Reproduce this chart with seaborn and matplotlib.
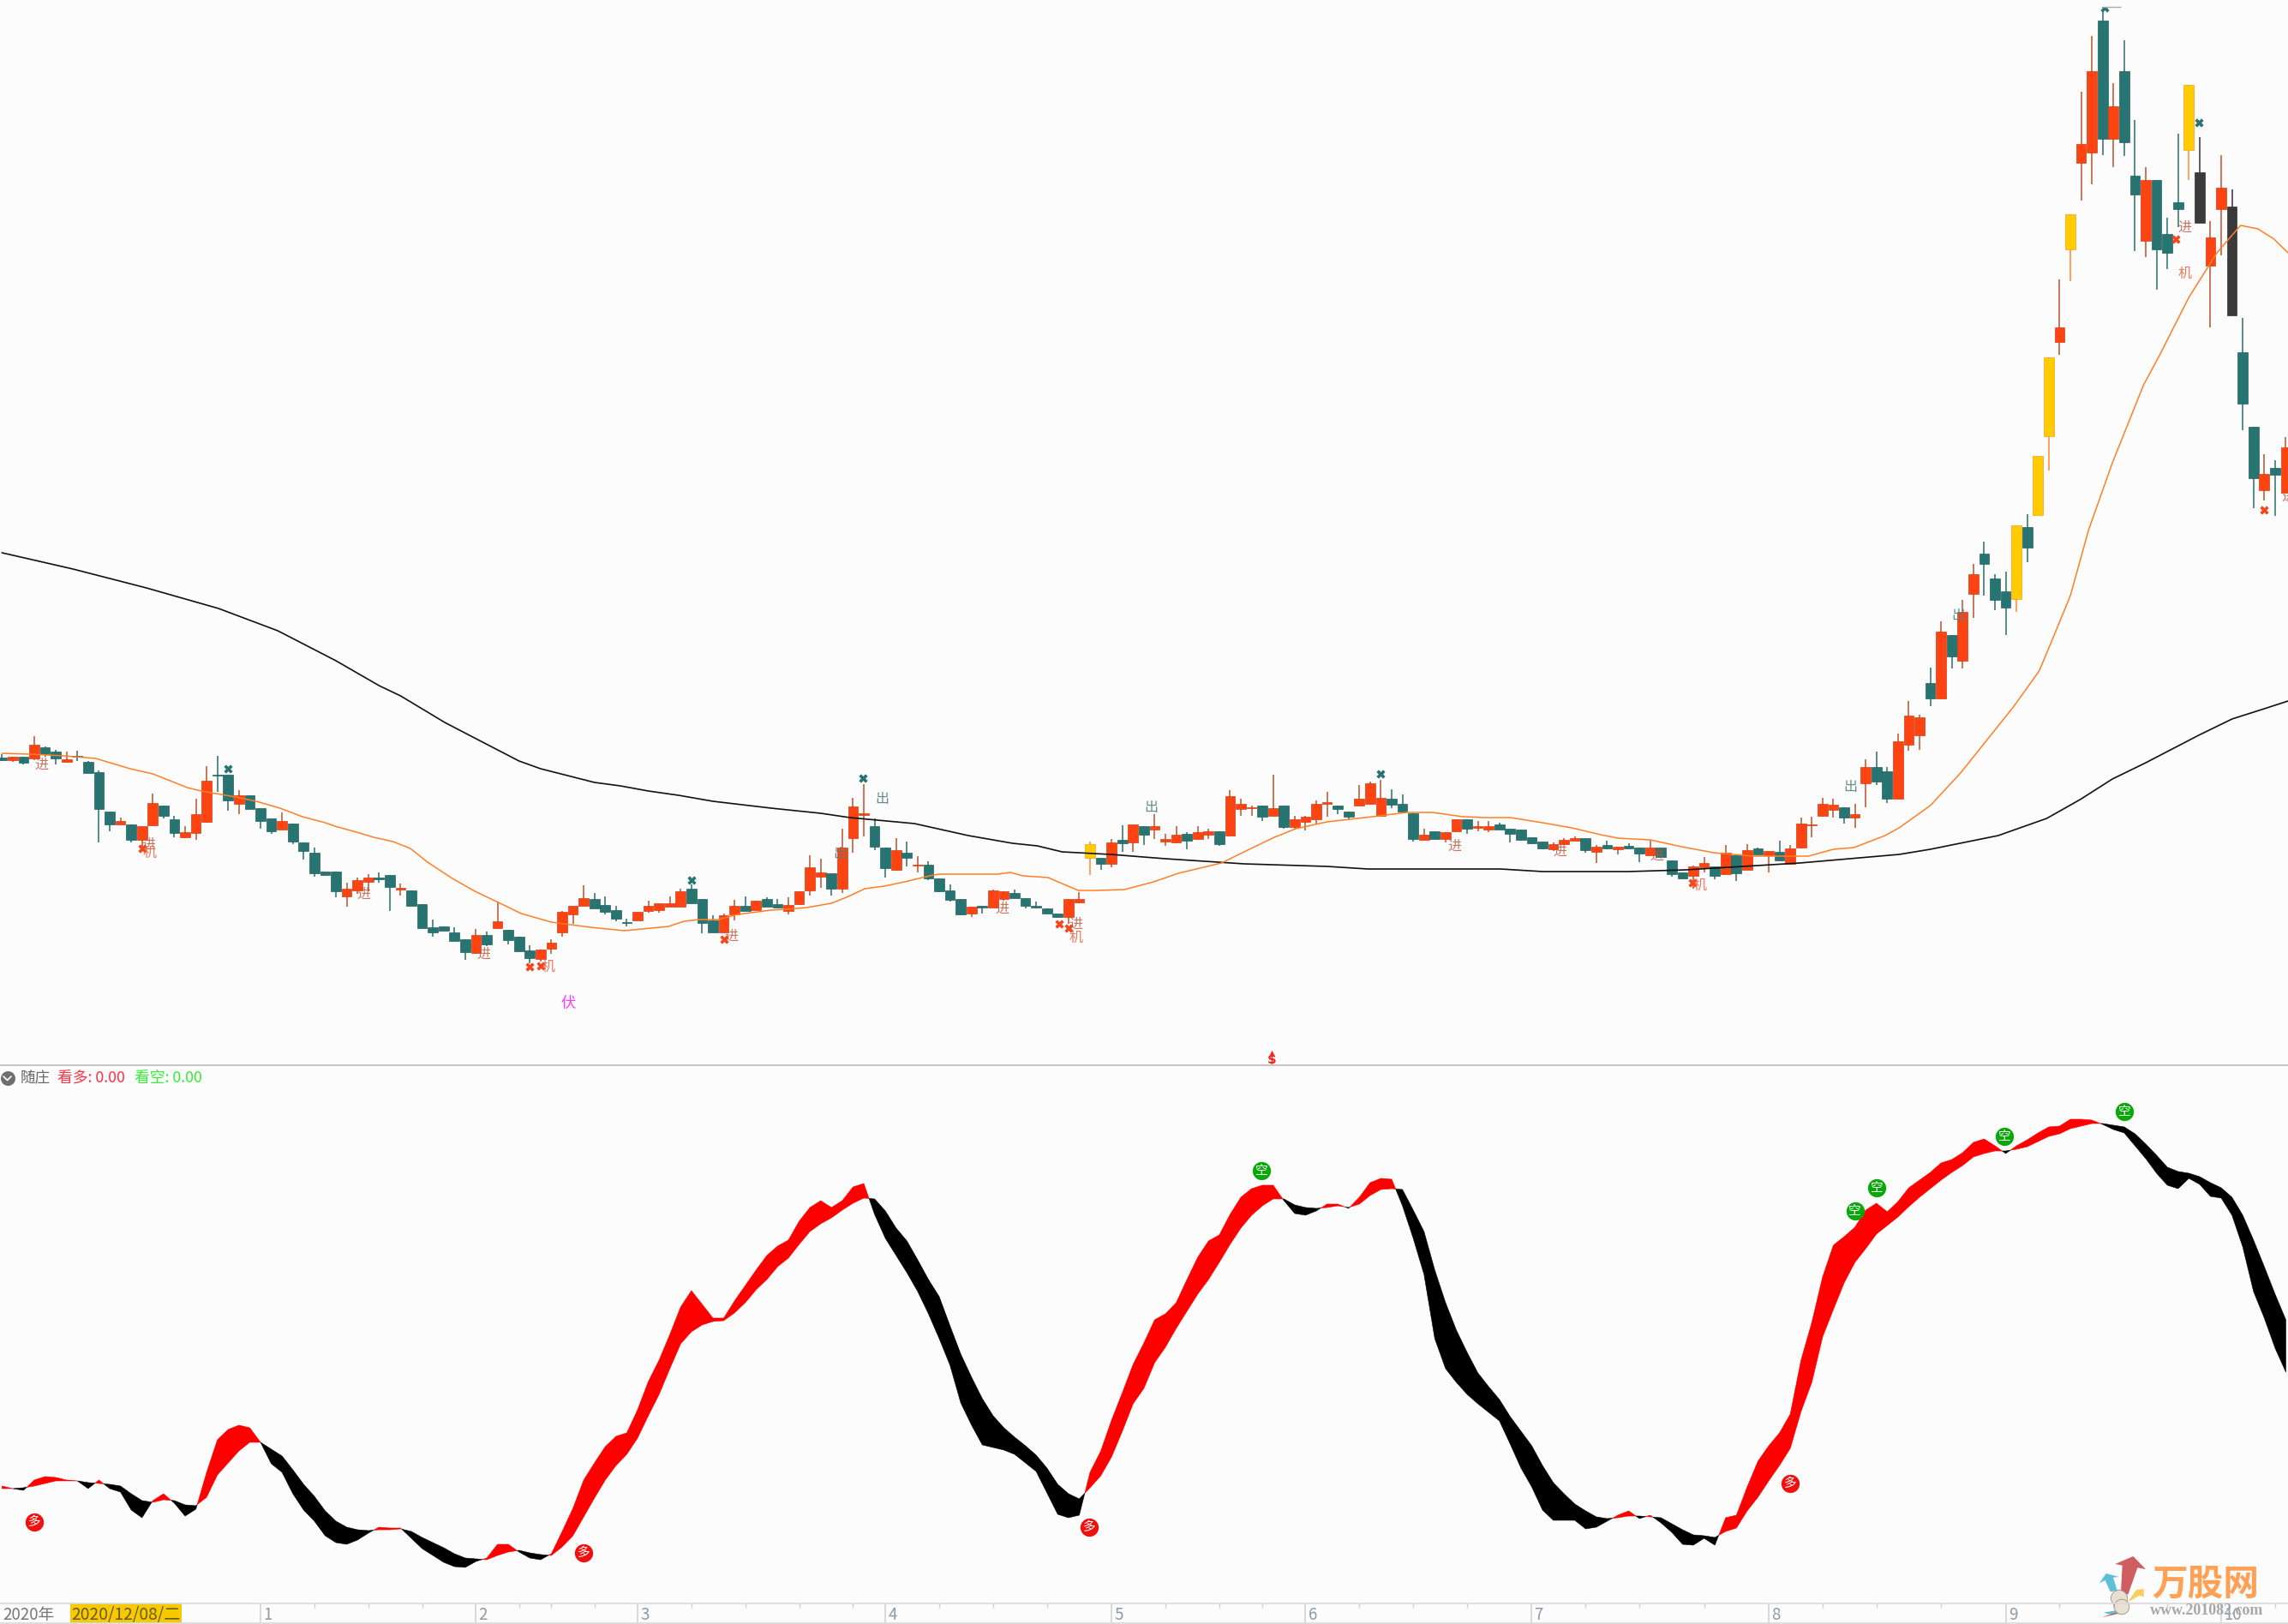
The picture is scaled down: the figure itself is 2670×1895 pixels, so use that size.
import numpy as np
import matplotlib
matplotlib.use("Agg")
import matplotlib.pyplot as plt
import seaborn as sns

# candles, one entry per trading day
bar_kind = list(
    "grgrggrggg" "grgrrggrrr" "ggrgggrggg" "ggrrrggrgg" "ggggrgrggg" "rrrrrggggr" "rrrrgggrrg" "rg"
    "grrrrgrrrg" "grgrggggrg" "rrgggggrry" "grgrgrrrgr" "rgrrrgrgrr" "rrggrrrggg" "rgrrgrrggg" "gg"
    "rrrgrgrggr" "gggrrgrgrg" "rgrrrrrgrr" "ggrrrgrgrr" "gggygyyryr" "rgrggrgggy" "drrdggrgr"
)

body_top = [359, 360, 360, 374, 371, 366, 357, 361, 354, 342,
            296, 285, 281, 279, 306, 303, 287, 272, 293, 332,
            339, 339, 315, 315, 300, 288, 285, 282, 260, 248,
            226, 226, 206, 216, 219, 219, 222, 207, 204, 188,
            161, 162, 155, 147, 152, 152, 168, 158, 150, 134,
            135, 143, 179, 186, 195, 194, 187, 181, 167, 179,
            186, 189, 189, 203, 206, 194, 169, 175, 186, 186,
            192, 194,
            188, 187, 203, 231, 225, 224, 254, 302, 294, 279,
            254, 251, 248, 234, 234, 218, 204, 194, 185, 186,
            204, 203, 201, 195, 186, 183, 177, 194, 194, 258,
            242, 260, 263, 281, 279, 279, 264, 269, 270, 272,
            273, 273, 314, 305, 300, 303, 300, 303, 287, 290,
            305, 307, 303, 296, 311, 329, 312, 311, 305, 294,
            269, 273, 272, 287, 287, 279, 279, 281, 276, 275,
            266, 261,
            258, 263, 265, 265, 255, 257, 255, 256, 254, 254,
            254, 239, 225, 232, 236, 232, 248, 245, 251, 253,
            250, 249, 253, 282, 280, 305, 304, 301, 293, 348,
            348, 343, 378, 408, 406, 446, 506, 502, 529, 573,
            597, 568, 553, 630, 628, 711, 826, 861, 993, 1075,
            1160, 1219, 1119, 1160, 1038, 1033, 1033, 970, 1007, 1144,
            1042, 966, 1024, 1002, 832, 745, 690, 697, 721]

body_bot = [356, 356, 353, 358, 363, 358, 354, 360, 341, 299,
            281, 281, 263, 263, 280, 291, 271, 266, 271, 284,
            338, 309, 305, 299, 285, 273, 275, 261, 250, 224,
            222, 203, 197, 204, 214, 217, 208, 205, 186, 160,
            155, 157, 145, 132, 131, 141, 160, 146, 133, 125,
            124, 136, 155, 176, 186, 183, 179, 171, 166, 169,
            180, 181, 185, 185, 189, 166, 155, 155, 176, 180,
            181, 185,
            184, 180, 188, 204, 220, 206, 206, 265, 292, 255,
            230, 228, 242, 233, 218, 203, 193, 176, 177, 184,
            184, 194, 195, 186, 184, 177, 173, 173, 190, 242,
            235, 235, 259, 260, 269, 275, 261, 260, 262, 264,
            269, 258, 268, 299, 300, 290, 291, 278, 278, 284,
            287, 305, 299, 290, 303, 305, 291, 304, 296, 264,
            263, 264, 264, 273, 276, 277, 275, 275, 270, 263,
            259, 253,
            252, 258, 262, 251, 249, 253, 252, 253, 247, 245,
            243, 223, 218, 221, 231, 221, 223, 224, 228, 246,
            245, 239, 235, 254, 280, 291, 298, 289, 289, 329,
            331, 311, 311, 374, 385, 428, 428, 477, 472, 550,
            585, 543, 534, 544, 604, 642, 734, 844, 952, 1053,
            1065, 1081, 1081, 1077, 1016, 962, 952, 948, 999, 1068,
            983, 933, 999, 875, 772, 685, 671, 689, 668]

wick_high = [363, 360, 360, 384, 372, 368, 366, 367, 355, 344,
             296, 289, 281, 279, 317, 303, 291, 279, 311, 349,
             361, 339, 321, 315, 300, 288, 295, 282, 260, 254,
             226, 226, 213, 219, 223, 225, 222, 212, 204, 188,
             170, 162, 161, 147, 159, 156, 191, 158, 150, 140,
             135, 147, 180, 186, 210, 201, 197, 186, 171, 179,
             192, 189, 197, 206, 211, 194, 175, 177, 193, 197,
             192, 196,
             194, 196, 203, 245, 241, 224, 276, 312, 328, 288,
             254, 265, 261, 244, 238, 218, 211, 194, 185, 186,
             205, 203, 205, 195, 191, 183, 177, 194, 202, 261,
             242, 264, 280, 281, 279, 293, 270, 279, 272, 279,
             276, 273, 321, 311, 303, 303, 339, 303, 291, 291,
             309, 319, 303, 296, 327, 331, 333, 322, 316, 294,
             276, 273, 272, 287, 287, 285, 285, 283, 276, 275,
             266, 261,
             260, 265, 267, 265, 257, 262, 255, 259, 254, 262,
             254, 239, 225, 233, 243, 232, 257, 245, 258, 254,
             250, 262, 257, 289, 290, 312, 311, 301, 305, 357,
             366, 348, 387, 425, 409, 464, 518, 502, 543, 585,
             611, 573, 576, 630, 643, 711, 826, 917, 993, 1136,
             1201, 1232, 1146, 1196, 1103, 1048, 1033, 989, 1087, 1144,
             1083, 985, 1062, 1022, 872, 745, 713, 706, 733]

wick_low = [355, 354, 351, 356, 360, 351, 353, 355, 341, 260,
            273, 281, 260, 253, 279, 288, 266, 265, 263, 283,
            319, 297, 293, 299, 276, 270, 275, 258, 240, 220,
            222, 196, 185, 200, 203, 213, 180, 198, 186, 160,
            150, 157, 145, 123, 130, 139, 160, 141, 133, 119,
            121, 130, 150, 165, 186, 183, 176, 168, 162, 169,
            178, 178, 185, 185, 189, 154, 155, 155, 169, 180,
            181, 185,
            183, 176, 187, 198, 207, 198, 201, 248, 267, 251,
            219, 227, 232, 225, 216, 202, 191, 175, 173, 177,
            184, 192, 195, 183, 183, 177, 172, 165, 189, 222,
            228, 231, 249, 249, 257, 264, 256, 259, 252, 263,
            264, 256, 268, 291, 291, 285, 290, 276, 276, 274,
            282, 290, 293, 287, 303, 304, 291, 300, 296, 261,
            262, 264, 260, 272, 270, 273, 272, 275, 260, 262,
            258, 252,
            250, 257, 262, 248, 236, 252, 246, 253, 237, 245,
            243, 220, 217, 206, 225, 217, 223, 215, 228, 246,
            225, 239, 235, 253, 266, 290, 289, 282, 277, 301,
            327, 306, 311, 367, 368, 419, 428, 463, 463, 522,
            548, 531, 502, 529, 587, 642, 694, 829, 915, 1009,
            1028, 1062, 1048, 1061, 950, 943, 905, 929, 978, 1033,
            983, 861, 945, 875, 741, 650, 659, 641, 668]

# moving averages (bar position, value)
ma_short_x = [0, 2.6, 5.8, 8.7, 11.9, 14, 16, 17.2, 18.5, 21.7, 23.6, 25.8, 27.9, 30, 30.9, 32.9, 34.5,
              36.3, 37.9, 39.5, 41.8, 43.9, 45.9, 48.2, 51, 54.6, 57.8, 61.9, 63.3, 64.7, 66.5, 68.3, 71.4,
              72.8, 74.7, 77, 78.4, 80.1, 81.9, 83.8, 86.1, 87, 92.4, 93.6, 94.8, 97.1, 99.9, 101.6, 104.2,
              106.9, 109.2, 111.2, 113.2, 115.3, 118.1, 120.1, 123, 127.2, 130.4, 132.8, 135.6, 137.7, 140,
              143, 145.7, 148.4, 150, 153, 155.9, 158.9, 162.5, 167.7, 170, 171.9, 174.8, 176.1, 179,
              181.8, 186.7, 189.1, 190.4, 192, 193.7, 195.9, 198.8, 200.3, 203, 205.6, 207.8, 209.4, 210.9, 212.2]
ma_short_y = [364, 363, 361, 358, 346, 340, 330, 324, 320, 313, 308, 300, 290, 283, 279, 272, 266,
              261, 253, 237, 218, 203, 191, 177, 167, 161, 157, 162, 168, 170, 170, 176, 181,
              182, 184, 189, 196, 206, 209, 214, 221, 223, 223, 225, 221, 219, 204, 204, 205,
              214, 224, 230, 236, 249, 266, 276, 284, 290, 295, 295, 290, 289, 289,
              283, 277, 269, 265, 263, 255, 248, 244, 244, 252, 254, 268, 277, 303,
              341, 418, 460, 499, 548, 625, 703, 794, 829, 896, 948, 980, 976, 964, 948]

ma_long_x = [0, 6.6, 13.4, 20.1, 25.6, 31, 35, 37, 41.1, 43.7, 48, 50, 55, 57.4, 60, 62.8, 66, 71.4,
             76, 78.7, 84.7, 89.7, 93.8, 96.1, 98.4, 102.9, 108, 115.3, 123, 126.8, 139.1, 143,
             151, 156.3, 166.9, 176.1, 179, 185.3, 189.8, 192.9, 195.9, 199, 203.9, 207, 210, 212.2]
ma_long_y = [598, 579, 557, 533, 507, 472, 443, 431, 400, 383, 355, 346, 330, 326, 320, 315, 308, 300,
             294, 289, 282, 268, 259, 256, 249, 246, 241, 235, 232, 229, 229, 226,
             226, 228, 236, 246, 252, 268, 288, 310, 334, 353, 385, 404, 416, 425]

# signal texts on the price panel
jin_x = [3.7, 13.6, 33.6, 44.7, 67.7, 92.8, 99.7, 134.8, 144.6, 153.6, 202.6, 212.2]
jin_y = [351, 258, 200, 130, 151, 183, 165, 256, 250, 245, 978, 664]
ji_x = [13.7, 50.7, 99.7, 157.6, 202.6]
ji_y = [248, 115, 149, 210, 924]
chu_x = [81.7, 77.8, 106.7, 171.6, 181.6]
chu_y = [310, 246, 301, 325, 525]
cross_red_x = [13, 49, 50, 67, 98.1, 99, 156.9, 201.8, 210]
cross_red_y = [253, 115, 116, 147, 165, 160, 213, 964, 648]
cross_green_x = [21, 64, 79.9, 128, 195.2, 203.9]
cross_green_y = [346, 216, 335, 340, 1234, 1100]

# oscillator ribbon
ribbon_fast = [137, 134, 132, 144, 148, 147, 144, 143, 134, 144,
               134, 130, 109, 100, 120, 128, 117, 102, 110, 153,
               191, 203, 208, 205, 188, 163, 153, 128, 109, 96,
               79, 71, 69, 74, 82, 89, 88, 88, 76, 64,
               56, 48, 43, 42, 49, 53, 69, 69, 60, 53,
               51, 58, 84, 111, 144, 164, 183, 195, 199, 226,
               259, 284, 314, 346, 365, 349, 333, 333, 353, 371,
               389, 406, 417, 424, 446, 462, 470, 462, 470, 486,
               490, 454, 426, 406, 386, 364, 338, 309, 278, 234,
               208, 185, 182, 179, 174, 164, 154, 129, 104, 100,
               103, 153, 178, 214, 246, 279, 304, 331, 338, 351,
               378, 404, 423, 430, 454, 474, 484, 488, 488, 470,
               455, 453, 458, 466, 466, 461, 474, 491, 496, 495,
               464, 426, 384, 309, 274, 258, 244, 233, 223, 213,
               186, 158, 136, 109, 97, 97, 97, 87, 89, 96,
               103, 108, 99, 103, 94, 83, 69, 68, 76, 68,
               100, 103, 136, 166, 184, 199, 221, 284, 328, 381,
               418, 428, 439, 459, 467, 457, 469, 485, 494, 503,
               514, 518, 526, 538, 542, 534, 525, 534, 541, 549,
               556, 557, 565, 565, 564, 559, 553, 549, 534, 519,
               502, 488, 484, 496, 489, 475, 473, 453, 416, 364,
               333, 298, 270]
ribbon_slow = [134, 134, 135, 137, 140, 143, 143, 143, 141, 140,
               139, 137, 128, 120, 118, 121, 120, 115, 114, 124,
               150, 164, 178, 188, 188, 180, 172, 156, 139, 125,
               108, 96, 89, 86, 85, 86, 86, 87, 84, 77,
               71, 65, 58, 53, 52, 51, 56, 60, 62, 59,
               57, 56, 66, 79, 101, 123, 144, 161, 174, 193,
               219, 244, 274, 303, 317, 325, 329, 330, 339, 351,
               366, 378, 393, 403, 419, 434, 443, 450, 459, 467,
               473, 472, 458, 438, 423, 401, 378, 358, 324, 291,
               264, 239, 219, 205, 194, 184, 173, 158, 139, 128,
               122, 135, 149, 171, 201, 233, 251, 281, 299, 321,
               341, 361, 378, 398, 419, 438, 453, 464, 472, 472,
               465, 462, 461, 462, 464, 462, 466, 476, 483, 484,
               483, 459, 434, 389, 351, 319, 293, 269, 253, 238,
               218, 201, 184, 161, 141, 128, 116, 108, 101, 99,
               100, 102, 102, 101, 100, 93, 86, 80, 79, 77,
               84, 88, 108, 124, 143, 161, 181, 224, 258, 311,
               343, 374, 398, 414, 431, 441, 451, 463, 474, 484,
               494, 503, 511, 521, 525, 528, 528, 530, 533, 539,
               545, 548, 554, 557, 560, 560, 558, 556, 548, 536,
               523, 509, 504, 502, 498, 491, 485, 474, 453, 424,
               393, 361, 331]
duo_x = [3, 54, 100.9, 166]
duo_y = [95, 59, 89, 140]
kong_x = [116.9, 172, 174, 185.9, 197]
kong_y = [505, 458, 485, 545, 574]

# time axis
month_ticks = [24, 44, 59, 82, 103, 121, 142, 164, 186, 206]
month_labels = ["1", "2", "3", "4", "5", "6", "7", "8", "9", "10"]
minor_ticks = [29, 34, 39, 48, 51, 55, 64, 69, 74, 79, 87, 92, 97, 108, 113, 117, 126, 131, 136,
               147, 152, 158, 169, 174, 180, 191, 196, 201, 211]

BG = "#fcfcfc"
body_colors = {"r": "#fc4412", "g": "#277472", "y": "#ffcc00", "d": "#3a3a3a"}
edge_colors = {"r": "#d63c12", "g": "#21625f", "y": "#ff9a1a", "d": "#333333"}
wick_colors = {"r": "#b9522f", "g": "#2a6e6c", "y": "#ff8a33", "d": "#333333"}

sns.set_theme(style="white", rc={"figure.facecolor": BG, "axes.facecolor": BG, "savefig.facecolor": BG})
plt.rcParams["font.family"] = ["Noto Sans CJK SC", "DejaVu Sans"]

W, H = 2670, 1895
fig = plt.figure(figsize=(W / 100, H / 100), dpi=100)
ax_top = fig.add_axes([0, (H - 1243) / H, 1, 1243 / H])
ax_bot = fig.add_axes([0, 24 / H, 1, 627 / H])
ax_time = fig.add_axes([0, 1 / H, 1, 23 / H])
overlay = fig.add_axes([0, 0, 1, 1], zorder=10)
overlay.patch.set_alpha(0)
overlay.set_xlim(0, W)
overlay.set_ylim(H, 0)
overlay.axis("off")

xlim = (-0.183, 212.2)
for ax in (ax_top, ax_bot, ax_time):
    ax.set_xlim(*xlim)
    ax.set_xticks([])
    ax.set_yticks([])
    sns.despine(ax=ax, left=True, bottom=True)
ax_top.set_ylim(0, 1243)
ax_bot.set_ylim(0, 627)
ax_time.set_ylim(0, 1)

# candles
idx = np.arange(len(body_top))
top = np.array(body_top)
bot = np.array(body_bot)
ax_top.vlines(idx, wick_low, wick_high, colors=[wick_colors[k] for k in bar_kind], linewidth=1.1, zorder=2)
ax_top.bar(idx, np.maximum(top - bot, 1), bottom=bot, width=0.93,
           color=[body_colors[k] for k in bar_kind],
           edgecolor=[edge_colors[k] for k in bar_kind], linewidth=0.5, zorder=3)

sns.lineplot(x=ma_long_x, y=ma_long_y, ax=ax_top, color="#111111", linewidth=1.2, estimator=None, zorder=4)
sns.lineplot(x=ma_short_x, y=ma_short_y, ax=ax_top, color="#ff7f27", linewidth=1.1, estimator=None, zorder=4)
ax_top.set_xlabel("")
ax_top.set_ylabel("")

sns.scatterplot(x=cross_red_x, y=cross_red_y, ax=ax_top, marker="X", s=55, color="#f4481c", linewidth=0, zorder=5)
sns.scatterplot(x=cross_green_x, y=cross_green_y, ax=ax_top, marker="X", s=55, color="#277472", linewidth=0, zorder=5)
# the top mark is cut off in the source picture
ax_top.axhspan(1235, 1243, color=BG, linewidth=0, zorder=5.5)
ax_top.hlines(1235, 194.9, 196.7, colors="#9fb0b0", linewidth=1, zorder=5.6)

for x, y in zip(jin_x, jin_y):
    ax_top.text(x, y, "进", color="#b8553a", alpha=0.8, fontsize=11.5, ha="center", va="center", zorder=6)
for x, y in zip(ji_x, ji_y):
    ax_top.text(x, y, "机", color="#f0603c", alpha=0.85, fontsize=11.5, ha="center", va="center", zorder=6)
for x, y in zip(chu_x, chu_y):
    ax_top.text(x, y, "出", color="#55807f", alpha=0.9, fontsize=11.5, ha="center", va="center", zorder=6)
ax_top.text(52.6, 72, "伏", color="#ff3cff", fontsize=12.5, ha="center", va="center", zorder=6)
ax_top.text(117.9, 7, "$", color="#ff2020", fontsize=11, fontweight="bold", ha="center", va="center",
            family=["DejaVu Sans"], zorder=6)
sns.scatterplot(x=[117.9], y=[15], ax=ax_top, marker="^", s=14, color="#ff2020", linewidth=0, zorder=6)

# oscillator
fast = np.array(ribbon_fast)
slow = np.array(ribbon_slow)
ax_bot.fill_between(idx, fast, slow, where=fast >= slow, interpolate=True, color="#ff0000", linewidth=0.4)
ax_bot.fill_between(idx, fast, slow, where=fast <= slow, interpolate=True, color="#000000", linewidth=0.4)
sns.scatterplot(x=duo_x, y=duo_y, ax=ax_bot, s=235, color="#f01010", linewidth=0, zorder=5)
sns.scatterplot(x=kong_x, y=kong_y, ax=ax_bot, s=235, color="#08a808", linewidth=0, zorder=5)
for x, y in zip(duo_x, duo_y):
    ax_bot.text(x, y, "多", color="white", fontsize=10.5, ha="center", va="center", zorder=6)
for x, y in zip(kong_x, kong_y):
    ax_bot.text(x, y, "空", color="white", fontsize=10.5, ha="center", va="center", zorder=6)
ax_bot.set_xlabel("")
ax_bot.set_ylabel("")

# time strip
ax_time.axvspan(6.3, 16.7, color="#f6c900", linewidth=0)
ax_time.vlines(month_ticks, 0, 1, colors="#cfcfcf", linewidth=1.1)
ax_time.vlines(minor_ticks, 0.78, 1, colors="#cfcfcf", linewidth=1)
for x, t in zip(month_ticks, month_labels):
    ax_time.text(x + 0.25, 0.43, t, color="#8d9aa8", fontsize=13.5, ha="left", va="center")
ax_time.text(0.1, 0.43, "2020年", color="#777777", fontsize=13.5, ha="left", va="center")
ax_time.text(6.4, 0.43, "2020/12/08/二", color="#665a20", fontsize=13.8, ha="left", va="center")

# panel borders and header
overlay.hlines([1243], 0, W, colors="#c4c4c4", linewidth=1.4)
overlay.hlines([1871, 1894], 0, W, colors="#d9d9d9", linewidth=1.2)
overlay.scatter([8.5], [1258], s=150, color="#6e6e6e", linewidth=0)
overlay.plot([4, 8.5, 13], [1256, 1260.5, 1256], color="white", linewidth=1.2)
overlay.text(24, 1258, "随庄", color="#666666", fontsize=12.6, ha="left", va="center")
overlay.text(67, 1258, "看多: 0.00", color="#ff3344", fontsize=12.8, ha="left", va="center")
overlay.text(157, 1258, "看空: 0.00", color="#33f033", fontsize=12.8, ha="left", va="center")

# watermark logo
def wm(points, color):
    pts = [(2300 + a / 3, 1750 + b / 3) for a, b in points]
    overlay.fill(*zip(*pts), color=color, linewidth=0, alpha=0.95)

wm([(505, 225), (568, 198), (612, 243), (583, 238), (550, 332), (525, 322), (530, 230)], "#cd5558")
wm([(450, 292), (473, 258), (518, 270), (498, 272), (512, 318), (488, 322), (470, 282)], "#55bcd8")
wm([(550, 358), (578, 316), (605, 312), (605, 340), (590, 335)], "#f8cc50")
wm([(458, 412), (500, 396), (545, 372), (520, 398)], "#cc4d4d")
wm([(465, 395), (505, 388), (510, 398), (480, 400)], "#55bcd8")
overlay.scatter([2473, 2476], [1865, 1875], s=[190, 160], color="#e8e0d2", edgecolors="#9a8f80", linewidth=0.6)
overlay.text(2511, 1849, "万股网", color="#ffa054", fontsize=30, fontweight="bold", ha="left", va="center")
overlay.text(2575, 1879, "www.201082.com", color="#a8a8a8", fontsize=13, fontweight="bold",
             family=["Liberation Serif"], ha="center", va="center")

fig.savefig("out.png", dpi=100, facecolor=BG)
